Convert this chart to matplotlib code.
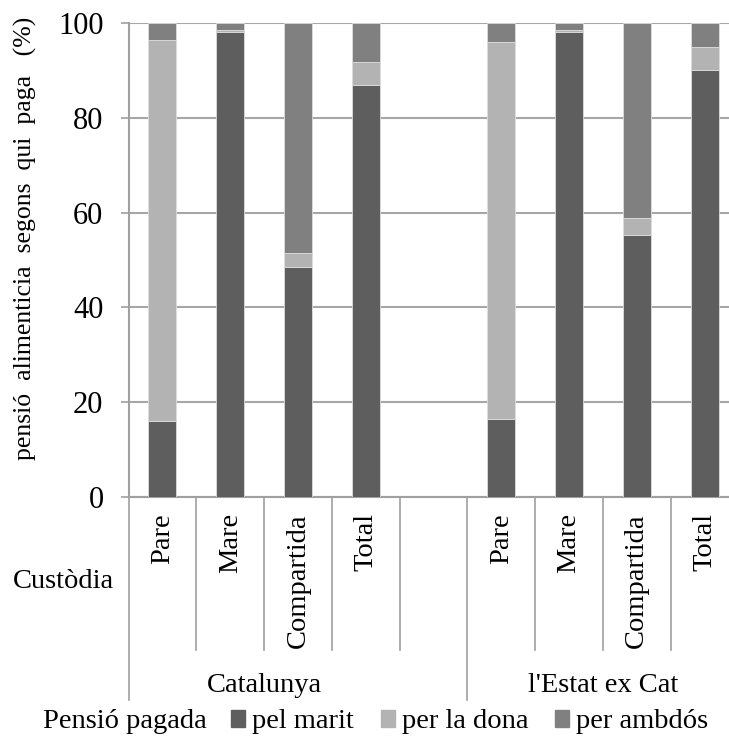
import matplotlib.pyplot as plt
import matplotlib.transforms as mtransforms
from matplotlib.patches import Patch

plt.rcParams['font.family'] = ['Liberation Serif', 'DejaVu Serif']

# data
regions = ['Catalunya', "l'Estat ex Cat"]
custody = ['Pare', 'Mare', 'Compartida', 'Total']
series = ['pel marit', 'per la dona', 'per ambdós']
colors = ['#5e5e5e', '#b3b3b3', '#808080']

cat_marit = [16.1, 98.0, 48.6, 86.9]
cat_dona = [80.3, 0.5, 2.9, 4.9]
cat_ambdos = [3.6, 1.5, 48.5, 8.2]

est_marit = [16.4, 98.0, 55.3, 90.0]
est_dona = [79.6, 0.5, 3.6, 4.9]
est_ambdos = [4.0, 1.5, 41.1, 5.1]

# slot positions: 4 bars, one empty slot, 4 bars
pos = [0, 1, 2, 3, 5, 6, 7, 8]
marit = cat_marit + est_marit
dona = cat_dona + est_dona
ambdos = cat_ambdos + est_ambdos

W, H = 729, 738
fig = plt.figure(figsize=(W / 100, H / 100), dpi=100)
ax = fig.add_axes([128.5 / W, 1 - 497 / H, 610 / W, 474 / H])

bottom2 = [a + b for a, b in zip(marit, dona)]
bw = 0.41
ax.bar(pos, marit, width=bw, color=colors[0], edgecolor='#dddddd', linewidth=0.6, zorder=3)
ax.bar(pos, dona, width=bw, bottom=marit, color=colors[1], edgecolor='#dddddd', linewidth=0.6, zorder=3)
ax.bar(pos, ambdos, width=bw, bottom=bottom2, color=colors[2], edgecolor='#dddddd', linewidth=0.6, zorder=3)

ax.set_xlim(-0.5, 8.5)
ax.set_ylim(0, 100)
ax.set_yticks([0, 20, 40, 60, 80, 100])
ax.set_xticks([])
ax.yaxis.grid(True, color='#a6a6a6', linewidth=1.5, zorder=0)
ax.set_axisbelow(True)
for s in ['top', 'right']:
    ax.spines[s].set_visible(False)
for s in ['left', 'bottom']:
    ax.spines[s].set_color('#a0a0a0')
    ax.spines[s].set_linewidth(1.5)
ax.tick_params(axis='y', length=6, width=1.2, color='#a0a0a0', labelsize=22, pad=12)
ax.set_ylabel('pensió  alimenticia  segons  qui  paga   (%)', fontsize=18.5)
ax.yaxis.set_label_coords(-(128.5 - 37) / 610, (497 - 238) / 474)

# category axis below
trans = mtransforms.blended_transform_factory(ax.transData, ax.transAxes)
px = 1 / 474.0
short_end = -(650 - 497) * px
long_end = -(700 - 497) * px
for x in [0.5, 1.5, 2.5, 3.5, 5.5, 6.5, 7.5]:
    ax.plot([x, x], [0, short_end], transform=trans, color='#a0a0a0', lw=1.2, clip_on=False)
for x in [-0.5, 4.5]:
    ax.plot([x, x], [0, long_end], transform=trans, color='#a0a0a0', lw=1.2, clip_on=False)

labels = custody + custody
for x, lab in zip(pos, labels):
    ax.text(x, -(513 - 497) * px, lab, transform=trans, rotation=90, ha='center', va='top', fontsize=20.5)

ax.text(1.5, -(685 - 497) * px, regions[0], transform=trans, ha='center', va='center', fontsize=20.5)
ax.text(6.5, -(685 - 497) * px, regions[1], transform=trans, ha='center', va='center', fontsize=20.5)

fig.text(13 / W, 1 - 582 / H, 'Custòdia', ha='left', va='center', fontsize=20.5)
fig.text(43 / W, 1 - 722 / H, 'Pensió pagada', ha='left', va='center', fontsize=20.5)

handles = [Patch(color=c) for c in colors]
fig.legend(handles, series, loc='center left', bbox_to_anchor=(231 / W, 1 - 722 / H), ncol=3,
           frameon=False, fontsize=20.5, handlelength=0.5, handleheight=0.5,
           handletextpad=0.25, columnspacing=0.93, borderpad=0, borderaxespad=0)

fig.savefig('out.png', dpi=100)
